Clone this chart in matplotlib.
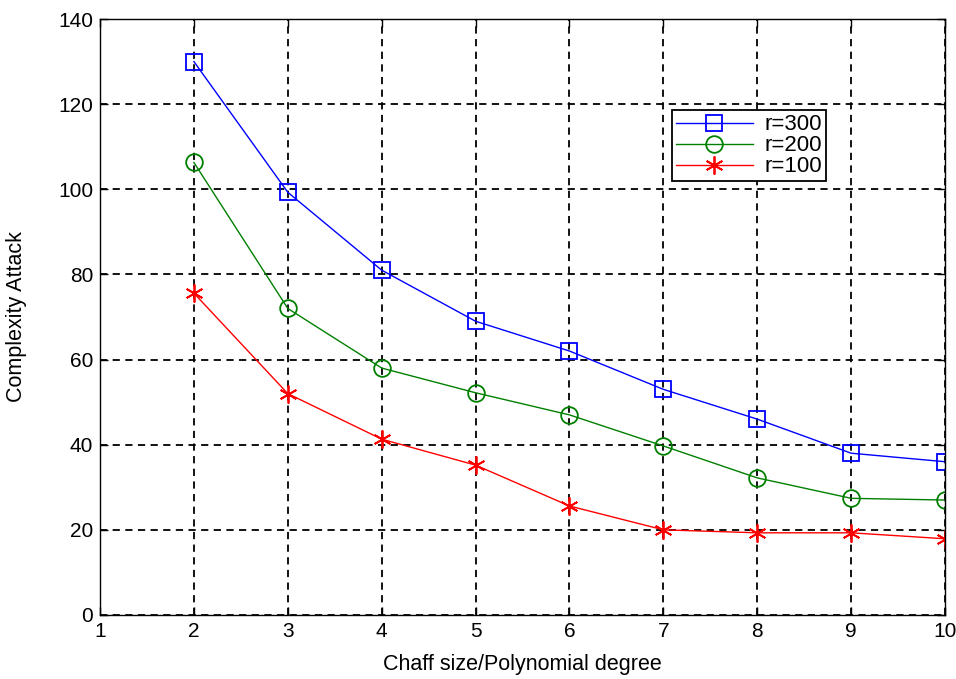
import matplotlib
matplotlib.use("Agg")
import matplotlib.pyplot as plt

plt.rcParams['font.family'] = ['Liberation Sans', 'DejaVu Sans']

degree = [2, 3, 4, 5, 6, 7, 8, 9, 10]
r300 = [130, 99.3, 81, 69, 62, 53, 46, 38, 36]
r200 = [106.3, 72, 58, 52.2, 47, 39.7, 32.2, 27.4, 27]
r100 = [75.6, 52, 41.3, 35.2, 25.6, 20, 19.3, 19.3, 17.9]
xticks = list(range(1, 11))
yticks = list(range(0, 141, 20))

fig = plt.figure(figsize=(9.56, 6.79), dpi=100)
ax = fig.add_axes([0.1046, 0.0943, 0.884, 0.8777])

ax.plot(degree, r300, color='#0000ff', lw=1, marker='s', ms=12, mfc='none',
        mec='#0000ff', mew=1.3, label='r=300')
ax.plot(degree, r200, color='#008000', lw=1, marker='o', ms=12, mfc='none',
        mec='#008000', mew=1.3, label='r=200')
ax.plot(degree, r100, color='#ff0000', lw=1, marker=(6, 2, 0), ms=13,
        mec='#ff0000', mew=1.3, label='r=100')

ax.set_xlim(1, 10)
ax.set_ylim(0, 140)
ax.set_xticks(xticks)
ax.set_yticks(yticks)
ax.grid(True, color='black', linestyle=(0, (4, 3)), linewidth=1.3)
ax.tick_params(direction='in', top=True, right=True, labelsize=15, length=6,
               width=1, pad=5)
for s in ax.spines.values():
    s.set_linewidth(1)
ax.set_xlabel('Chaff size/Polynomial degree', fontsize=15.5)
ax.set_ylabel('Complexity Attack', fontsize=15.5)
ax.xaxis.set_label_coords(0.5, -0.066)
ax.yaxis.set_label_coords(-0.086, 0.5)

leg = ax.legend(loc='upper left', bbox_to_anchor=(0.677, 0.847), fontsize=15,
                frameon=True, fancybox=False, edgecolor='black',
                framealpha=1, handlelength=3.7, borderpad=0.18,
                labelspacing=0.0, handletextpad=0.55, borderaxespad=0)
leg.get_frame().set_linewidth(1.3)
for t in leg.get_texts():
    t.set_fontsize(16)

fig.savefig('out.png', dpi=100)
